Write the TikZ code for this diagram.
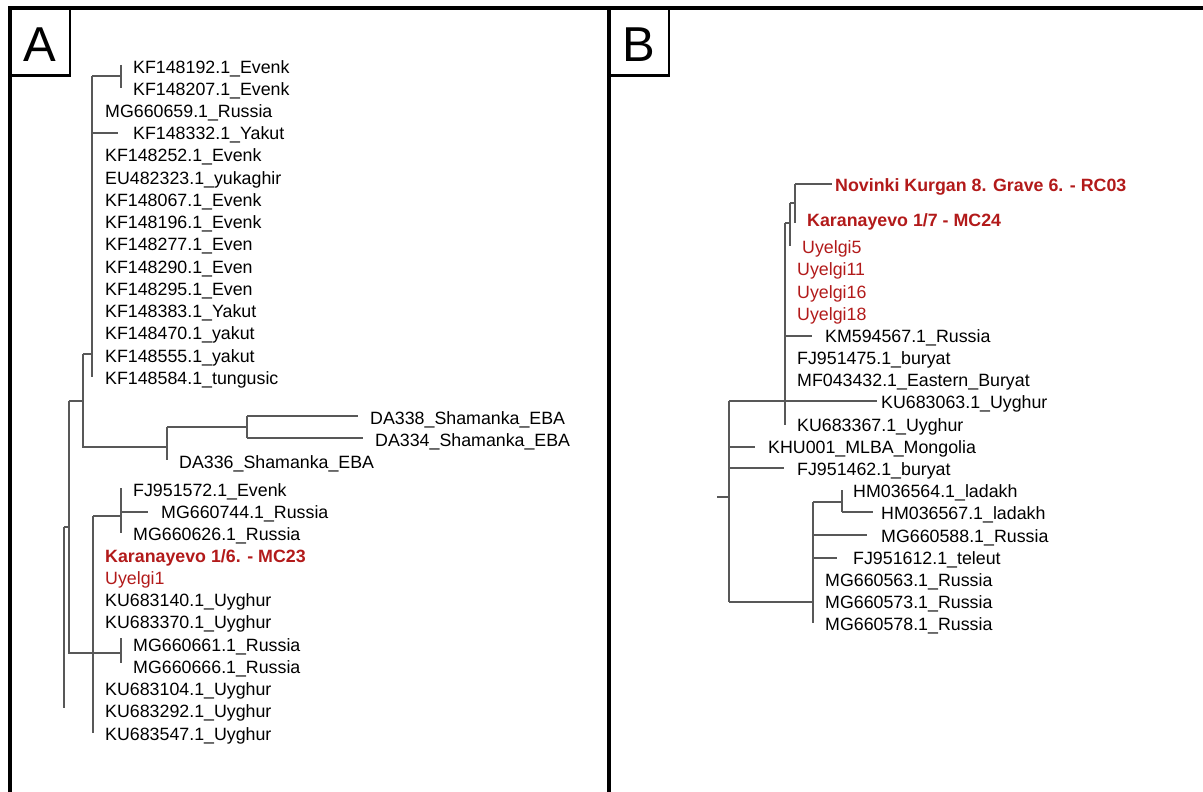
\documentclass[tikz,border=0pt]{standalone}
\usepackage{fontspec}
\setmainfont{Liberation Sans}
\definecolor{brc}{RGB}{88,88,88}
\definecolor{rd}{RGB}{178,26,26}
\newcommand\tleaf[5][lab]{\node[#1] (#2) at (#3,#4) {#5};}
\begin{document}
\begin{tikzpicture}[x=1pt,y=-1pt,
 lab/.style={anchor=west,inner sep=0pt,text height=12.7pt,text depth=0pt,font=\fontsize{17.8}{20}\selectfont},
 hb/.style={lab,text=rd,font=\fontsize{17.8}{20}\selectfont\bfseries},
 hr/.style={lab,text=rd},
 brn/.style={draw=brc,line width=1.3pt},
 frame/.style={line width=3.4pt},
 tagbox/.style={line width=2.4pt},
 tagtxt/.style={inner sep=0pt,font=\fontsize{49}{50}\selectfont}]
\useasboundingbox (0,0) rectangle (1203,792);
% frame
\draw[frame] (10,794) -- (10,8) -- (1205,8);
\draw[frame] (609,8) -- (609,794);
\draw[tagbox] (10,75.5) -- (69.7,75.5) -- (69.7,8);
\draw[tagbox] (609,75.5) -- (668.7,75.5) -- (668.7,8);
\node[tagtxt] (tA) at (40,44.5) {A};
\node[tagtxt] (tB) at (639,44.5) {B};

% ---------- Panel A ----------
\draw[brn] (92,76) -- (92,377);
\draw[brn] (92,76) -- (121,76);
\draw[brn] (121,65) -- (121,88);
\draw[brn] (92,133) -- (118,133);
\draw[brn] (83,354) -- (92,354);
\draw[brn] (83,354) -- (83,447) -- (167,447);
\draw[brn] (167,427) -- (167,460);
\draw[brn] (167,427) -- (247,427);
\draw[brn] (247,416) -- (247,438);
\draw[brn] (247,416) -- (358,416);
\draw[brn] (247,438) -- (363,438);
\draw[brn] (69,401) -- (83,401);
\draw[brn] (69,401) -- (69,653) -- (121,653);
\draw[brn] (64,527) -- (69,527);
\draw[brn] (64,527) -- (64,708);
\draw[brn] (93,516) -- (93,733);
\draw[brn] (93,516) -- (121,516);
\draw[brn] (121,488) -- (121,533);
\draw[brn] (121,512) -- (148,512);
\draw[brn] (121,638) -- (121,663);

\tleaf{a1}{133}{67}{KF148192.1\_Evenk}
\tleaf{a2}{133}{89}{KF148207.1\_Evenk}
\tleaf{a3}{105}{111}{MG660659.1\_Russia}
\tleaf{a4}{133}{133}{KF148332.1\_Yakut}
\tleaf{a5}{105}{155.5}{KF148252.1\_Evenk}
\tleaf{a6}{105}{178}{EU482323.1\_yukaghir}
\tleaf{a7}{105}{200}{KF148067.1\_Evenk}
\tleaf{a8}{105}{222}{KF148196.1\_Evenk}
\tleaf{a9}{105}{244.5}{KF148277.1\_Even}
\tleaf{a10}{105}{267}{KF148290.1\_Even}
\tleaf{a11}{105}{289}{KF148295.1\_Even}
\tleaf{a12}{105}{311}{KF148383.1\_Yakut}
\tleaf{a13}{105}{333.5}{KF148470.1\_yakut}
\tleaf{a14}{105}{356}{KF148555.1\_yakut}
\tleaf{a15}{105}{378}{KF148584.1\_tungusic}
\tleaf{a16}{370}{418}{DA338\_Shamanka\_EBA}
\tleaf{a17}{375}{440}{DA334\_Shamanka\_EBA}
\tleaf{a18}{179}{462}{DA336\_Shamanka\_EBA}
\tleaf{a19}{133}{490}{FJ951572.1\_Evenk}
\tleaf{a20}{161}{512}{MG660744.1\_Russia}
\tleaf{a21}{133}{534}{MG660626.1\_Russia}
\tleaf[hb]{a22}{105}{556}{Karanayevo 1/6. - MC23}
\tleaf[hr]{a23}{105}{578}{Uyelgi1}
\tleaf{a24}{105}{600}{KU683140.1\_Uyghur}
\tleaf{a25}{105}{622.5}{KU683370.1\_Uyghur}
\tleaf{a26}{133}{645}{MG660661.1\_Russia}
\tleaf{a27}{133}{667}{MG660666.1\_Russia}
\tleaf{a28}{105}{689}{KU683104.1\_Uyghur}
\tleaf{a29}{105}{711.5}{KU683292.1\_Uyghur}
\tleaf{a30}{105}{734}{KU683547.1\_Uyghur}

% ---------- Panel B ----------
\draw[brn] (717,497) -- (729,497);
\draw[brn] (729,401) -- (729,602);
\draw[brn] (729,401) -- (877,401);
\draw[brn] (785,223) -- (785,425);
\draw[brn] (785,223) -- (790,223);
\draw[brn] (790,203) -- (790,246);
\draw[brn] (790,203) -- (795,203);
\draw[brn] (795,184) -- (795,223);
\draw[brn] (795,184) -- (832,184);
\draw[brn] (785,336) -- (812,336);
\draw[brn] (729,447) -- (755,447);
\draw[brn] (729,468) -- (784,468);
\draw[brn] (729,602) -- (813,602);
\draw[brn] (813,502) -- (813,623);
\draw[brn] (813,502) -- (842,502);
\draw[brn] (842,490) -- (842,512);
\draw[brn] (842,512) -- (873,512);
\draw[brn] (813,535) -- (867,535);
\draw[brn] (813,558) -- (837,558);

\tleaf[hb]{b1}{835}{185}{Novinki Kurgan 8. Grave 6. - RC03}
\tleaf[hb]{b2}{807}{220}{Karanayevo 1/7 - MC24}
\tleaf[hr]{b3}{802}{247}{Uyelgi5}
\tleaf[hr]{b4}{797}{269}{Uyelgi11}
\tleaf[hr]{b5}{797}{292}{Uyelgi16}
\tleaf[hr]{b6}{797}{314}{Uyelgi18}
\tleaf{b7}{825}{336.5}{KM594567.1\_Russia}
\tleaf{b8}{797}{358}{FJ951475.1\_buryat}
\tleaf{b9}{797}{380.5}{MF043432.1\_Eastern\_Buryat}
\tleaf{b10}{881}{402.5}{KU683063.1\_Uyghur}
\tleaf{b11}{797}{425}{KU683367.1\_Uyghur}
\tleaf{b12}{768}{447}{KHU001\_MLBA\_Mongolia}
\tleaf{b13}{797}{469}{FJ951462.1\_buryat}
\tleaf{b14}{853}{491.5}{HM036564.1\_ladakh}
\tleaf{b15}{881}{513.5}{HM036567.1\_ladakh}
\tleaf{b16}{881}{536}{MG660588.1\_Russia}
\tleaf{b17}{853}{558}{FJ951612.1\_teleut}
\tleaf{b18}{825}{580}{MG660563.1\_Russia}
\tleaf{b19}{825}{602.5}{MG660573.1\_Russia}
\tleaf{b20}{825}{624.5}{MG660578.1\_Russia}
\end{tikzpicture}
\end{document}
